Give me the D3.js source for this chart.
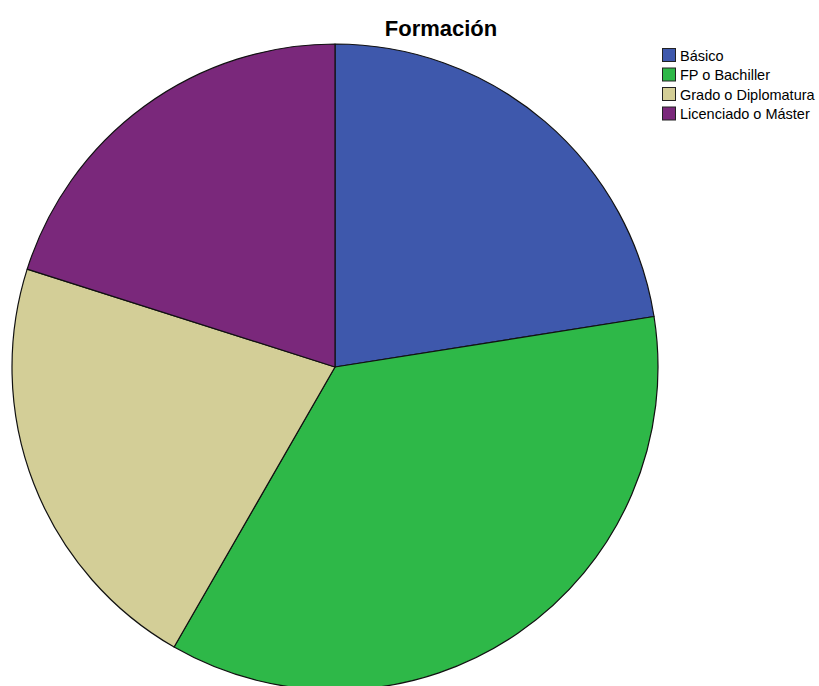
<!DOCTYPE html>
<html>
<head>
<meta charset="utf-8">
<script src="https://cdn.jsdelivr.net/npm/d3@7"></script>
<style>
  html, body { margin: 0; padding: 0; background: #fff; }
  svg { display: block; }
</style>
</head>
<body>
<svg id="chart" width="819" height="686"></svg>
<script>
// Distribución por nivel de formación (porcentaje de casos)
const categories = ["Básico", "FP o Bachiller", "Grado o Diplomatura", "Licenciado o Máster"];
const values = [22.5, 35.8, 21.6, 20.1];
const colors = ["#3e58ac", "#2eb848", "#d3ce97", "#7a287b"];
const title = "Formación";

const svg = d3.select("#chart");
const width = 819, height = 686;
const cx = 335, cy = 367, radius = 323;

const color = d3.scaleOrdinal().domain(categories).range(colors);

const pie = d3.pie().sort(null).value(d => d.value);
const arc = d3.arc().innerRadius(0).outerRadius(radius);
const data = categories.map((c, i) => ({ name: c, value: values[i] }));

svg.append("g")
  .attr("transform", `translate(${cx},${cy})`)
  .selectAll("path")
  .data(pie(data))
  .join("path")
  .attr("d", arc)
  .attr("fill", d => color(d.data.name))
  .attr("stroke", "#111")
  .attr("stroke-width", 1.2)
  .attr("stroke-linejoin", "round");

svg.append("text")
  .attr("x", 441)
  .attr("y", 36)
  .attr("text-anchor", "middle")
  .attr("font-family", "Liberation Sans, Arial, sans-serif")
  .attr("font-weight", "bold")
  .attr("font-size", 22)
  .attr("fill", "#000")
  .text(title);

// Leyenda
const legend = svg.append("g").attr("transform", "translate(662,48)");
const rowH = 19.5;
const item = legend.selectAll("g")
  .data(categories)
  .join("g")
  .attr("transform", (d, i) => `translate(0,${i * rowH})`);

item.append("rect")
  .attr("x", 0.5).attr("y", 0.5)
  .attr("width", 13).attr("height", 13)
  .attr("fill", d => color(d))
  .attr("stroke", "#222")
  .attr("stroke-width", 1);

item.append("text")
  .attr("x", 18)
  .attr("y", 12.5)
  .attr("font-family", "Liberation Sans, Arial, sans-serif")
  .attr("font-size", 14.5)
  .attr("fill", "#000")
  .text(d => d);
</script>
</body>
</html>
